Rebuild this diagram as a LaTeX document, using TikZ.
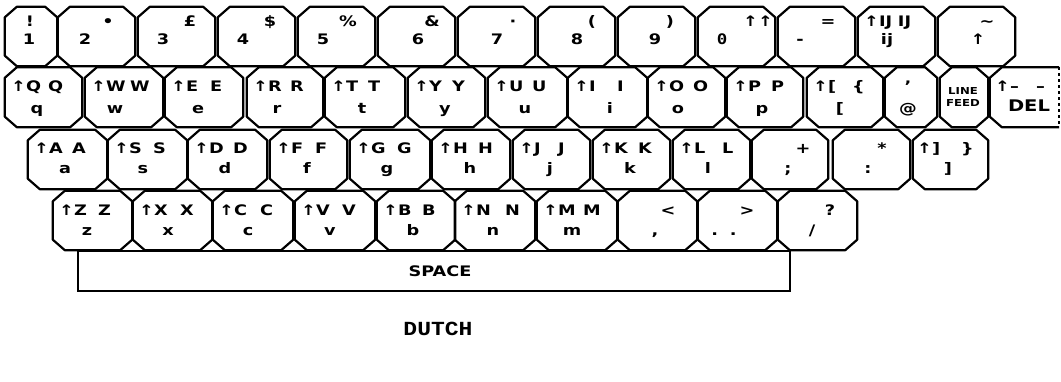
\documentclass[tikz,border=0pt]{standalone}
\usepackage{fontspec}
\setsansfont{DejaVu Sans}[FakeStretch=1.22]
\setmonofont{Liberation Mono}[FakeStretch=1.15]
\newfontfamily\zerofont{DejaVu Sans Mono}[FakeStretch=1.2]
\def\kcx{12pt}
\def\kcy{10.5pt}
\tikzset{
  keybox/.style={rectangle, inner sep=0pt},
  keyline/.style={line width=2.2pt, line join=round},
  lab/.style={font=\sffamily\bfseries\fontsize{14.5}{14.5}\selectfont, inner sep=0pt, anchor=base},
  labw/.style={lab, anchor=base west},
  small/.style={font=\sffamily\bfseries\fontsize{9.6}{11.5}\selectfont, inner sep=0pt, align=center},
  caption/.style={font=\ttfamily\bfseries\fontsize{20}{20}\selectfont, inner sep=0pt, anchor=base},
}
% outline of a key: #1 name, #2 left, #3 width
\newcommand\keyO[3]{%
  \node[keybox, minimum width=#3pt, minimum height=\rh pt] (#1) at ({#2+#3/2},{\rt+\rh/2}) {};
  \draw[keyline] ([xshift=\kcx]#1.north west) -- ([xshift=-\kcx]#1.north east)
    -- ([yshift=-\kcy]#1.north east) -- ([yshift=\kcy]#1.south east)
    -- ([xshift=-\kcx]#1.south east) -- ([xshift=\kcx]#1.south west)
    -- ([yshift=\kcy]#1.south west) -- ([yshift=-\kcy]#1.north west) -- cycle;
}
% symbol key: #1 name, #2 left, #3 width, #4 top, #5 top x, #6 bottom, #7 bottom x
\newcommand\keyS[7]{%
  \keyO{#1}{#2}{#3}
  \node[lab] (#1t) at (#5,\rtb) {#4};
  \node[lab] (#1b) at (#7,\rbb) {#6};
}
% letter key: #1 name, #2 left, #3 width, #4 capital, #5 lower, #6 lower x, #7 offset of 2nd capital
\newcommand\keyL[7]{%
  \keyO{#1}{#2}{#3}
  \node[labw] (#1t) at ({#2+6},\rtb) {↑#4};
  \node[labw] (#1u) at ({#2+#7},\rtb) {#4};
  \node[lab] (#1b) at (#6,\rbb) {#5};
}
\begin{document}
\begin{tikzpicture}[x=1pt,y=-1pt]
\useasboundingbox (0,0) rectangle (1061,381);
% row 1
\def\rt{7}\def\rh{59}\def\rtb{26}\def\rbb{44}
\keyS{k1}{5}{52}{!}{30}{1}{29}
\keyS{k2}{58}{77}{•}{108}{2}{85}
\keyS{k3}{138}{77}{£}{190}{3}{163}
\keyS{k4}{218}{77}{\$}{270}{4}{243}
\keyS{k5}{298}{77}{\%}{348}{5}{323}
\keyS{k6}{378}{77}{\&}{432}{6}{418}
\keyS{k7}{458}{77}{·}{513}{7}{497}
\keyS{k8}{538}{77}{(}{592}{8}{577}
\keyS{k9}{618}{77}{)}{670}{9}{655}
\keyS{k0}{698}{77}{↑↑}{758}{\zerofont 0}{722}
\keyS{kmin}{778}{77}{=}{828}{-}{800}
\keyS{kij}{858}{77}{}{898}{ij}{887}
\node[labw] (kijt) at (864,\rtb) {↑IJ\hspace{0.4em}IJ};
\keyS{kup}{938}{77}{\textasciitilde}{987}{↑}{978}
% row 2
\def\rt{67.5}\def\rh{59.5}\def\rtb{91}\def\rbb{113}
\keyL{kq}{5}{77}{Q}{q}{37}{43}
\keyL{kw}{85}{78}{W}{w}{115}{45}
\keyL{ke}{165}{78}{E}{e}{198}{45}
\keyL{kr}{247}{76}{R}{r}{277}{43}
\keyL{kt}{325}{80}{T}{t}{362}{43}
\keyL{ky}{408}{77}{Y}{y}{445}{44}
\keyL{ku}{488}{79}{U}{u}{525}{44}
\keyL{ki}{568}{79}{I}{i}{610}{49}
\keyL{ko}{648}{77}{O}{o}{678}{45}
\keyL{kp}{727}{76}{P}{p}{762}{44}
\keyO{kbr}{807}{76}
\node[labw] (kbrt) at (813,\rtb) {↑[};
\node[labw] (kbru) at (852,\rtb) {\{};
\node[lab] (kbrb) at (840,\rbb) {[};
\keyS{kat}{885}{52}{'}{908}{@}{908}
\keyO{klf}{940}{48}
\node[small] (klft) at (963,97) {LINE\\FEED};
% DEL key (cut at the right edge)
\node[keybox, minimum width=69pt, minimum height=\rh pt] (kdel) at (1024.5,{\rt+\rh/2}) {};
\draw[keyline] (kdel.north east) -- ([xshift=\kcx]kdel.north west)
  -- ([yshift=-\kcy]kdel.north west) -- ([yshift=\kcy]kdel.south west)
  -- ([xshift=\kcx]kdel.south west) -- (kdel.south east);
\draw[keyline, dashed] (kdel.north east) -- (kdel.south east);
\node[labw] (kdelt) at (995,\rtb) {↑–};
\node[labw] (kdelu) at (1036,\rtb) {–};
\node[lab, font=\sffamily\bfseries\fontsize{16}{16}\selectfont] (kdelb) at (1029,111) {DEL};
% row 3
\def\rt{130}\def\rh{59}\def\rtb{153}\def\rbb{173.5}
\keyL{ka}{28}{79}{A}{a}{65}{44}
\keyL{ks}{108}{79}{S}{s}{143}{45}
\keyL{kd}{188}{79}{D}{d}{225}{45}
\keyL{kf}{270}{77}{F}{f}{307}{45}
\keyL{kg}{350}{80}{G}{g}{387}{47}
\keyL{kh}{432}{78}{H}{h}{470}{46}
\keyL{kj}{513}{77}{J}{j}{550}{45}
\keyL{kk}{593}{77}{K}{k}{630}{45}
\keyL{kl}{673}{77}{L}{l}{708}{49}
\keyS{ksc}{752}{76}{+}{803}{;}{788}
\keyS{kco}{833}{77}{*}{882}{:}{868}
\keyO{kcb}{913}{75}
\node[labw] (kcbt) at (917,\rtb) {↑]};
\node[labw] (kcbu) at (961,\rtb) {\}};
\node[lab] (kcbb) at (948,\rbb) {]};
% row 4
\def\rt{191}\def\rh{59}\def\rtb{215.5}\def\rbb{235}
\keyL{kz}{53}{79}{Z}{z}{87}{45}
\keyL{kx}{133}{79}{X}{x}{168}{47}
\keyL{kc}{213}{80}{C}{c}{248}{47}
\keyL{kv}{295}{80}{V}{v}{330}{47}
\keyL{kb}{377}{78}{B}{b}{413}{45}
\keyL{kn}{455}{80}{N}{n}{493}{50}
\keyL{km}{537}{80}{M}{m}{572}{46}
\keyS{kcomma}{618}{79}{<}{668}{,}{655}
\keyS{kdot}{698}{79}{>}{747}{.\hspace{0.8em}.}{724}
\keyS{kslash}{778}{79}{?}{830}{/}{812}
% space bar
\node[keybox, draw, line width=1.4pt, minimum width=712pt, minimum height=40pt] (space) at (434,271) {};
\node[lab] (spacet) at (440,276) {SPACE};
% caption
\node[caption] (dutch) at (438,335) {DUTCH};
\end{tikzpicture}
\end{document}
